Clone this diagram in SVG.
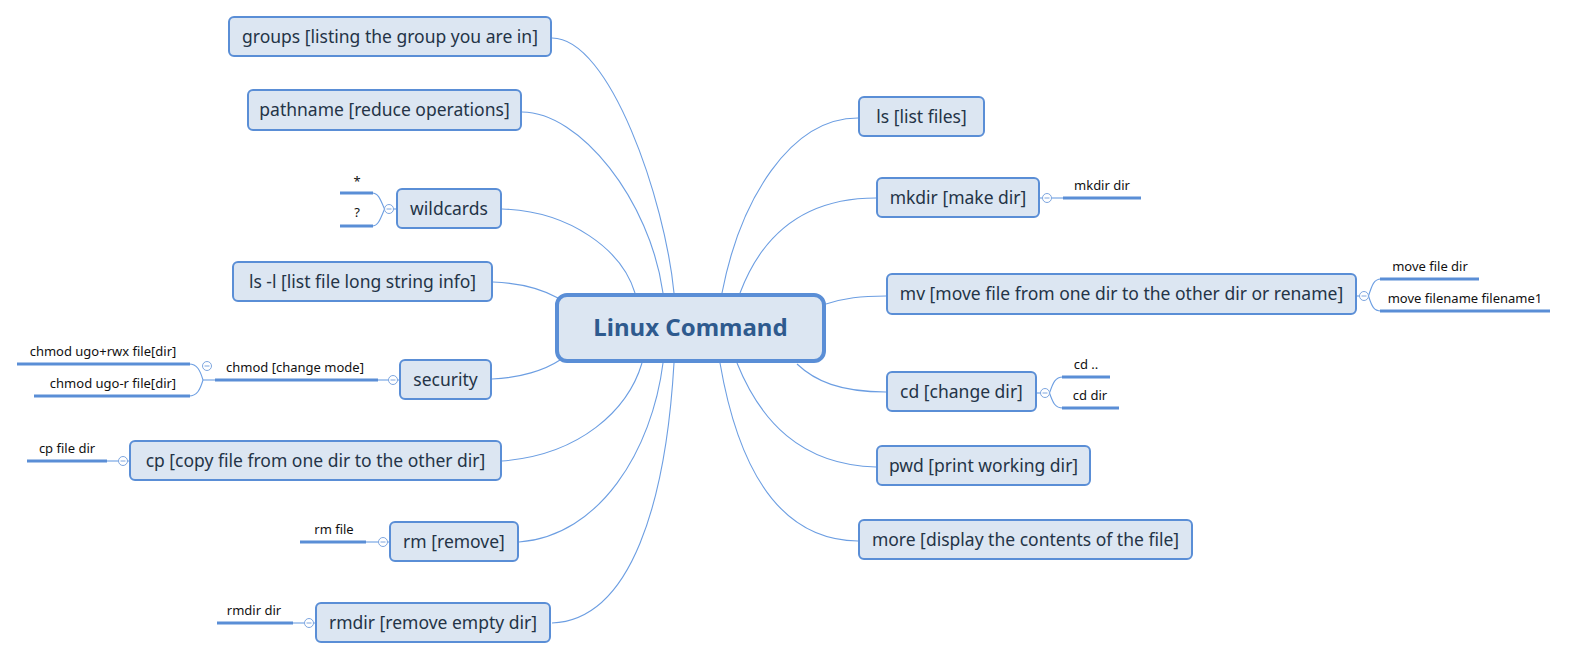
<svg xmlns="http://www.w3.org/2000/svg" xmlns:xlink="http://www.w3.org/1999/xlink" width="1575" height="660" viewBox="0 0 1575 660">
<style>
.bg{fill:#ffffff}
.node rect{fill:#dce6f2;stroke:#5a8ed6;stroke-width:2}
.node text{font-family:"Noto Sans","Open Sans",sans-serif;font-size:17.5px;fill:#243447;text-anchor:middle}
.center rect{fill:#dce6f2;stroke:#5a8ed6;stroke-width:4}
.center text{font-family:"Noto Sans","Open Sans",sans-serif;font-size:24px;font-weight:bold;fill:#2e5a8e;text-anchor:middle}
.conn path,.conn line{fill:none;stroke:#6c9ee2;stroke-width:1.1}
.sub line.ul{stroke:#5a8ed6;stroke-width:3}
.sub text{font-family:"Noto Sans","Open Sans",sans-serif;font-size:13px;fill:#111;text-anchor:middle}
</style>
<defs>
<g id="tog"><circle cx="0" cy="0" r="4.5" fill="#ffffff" stroke="#7ea6df" stroke-width="1"/><path d="M-2.5 0H2.5" stroke="#7ea6df" stroke-width="1"/></g>
</defs>
<rect class="bg" x="0" y="0" width="1575" height="660"/>

<g id="connectors" class="conn">
<path d="M552 38 C610 38 665 200 674 293"/>
<path d="M522 112 C580 112 650 200 663 293"/>
<path d="M502 209 C570 211 622 250 635 293"/>
<path d="M493 282 C520 283 540 288 558 298"/>
<path d="M492 379 C520 378 545 370 560 360"/>
<path d="M502 461 C580 455 628 410 642 363"/>
<path d="M519 542 C600 536 652 450 663 363"/>
<path d="M552 623 C632 620 666 500 674 363"/>
<path d="M858 118 C790 118 740 200 722 293"/>
<path d="M876 198 C800 198 760 240 740 293"/>
<path d="M886 296 C860 296 845 298 826 304"/>
<path d="M886 392 C840 392 815 381 797 364"/>
<path d="M876 467 C800 465 760 420 737 363"/>
<path d="M858 541 C770 540 735 450 720 363"/>
<!-- sub connectors -->
<line x1="396" y1="209" x2="393.5" y2="209"/>
<path d="M384.5 209 C380 198 378 193 372 193"/>
<path d="M384.5 209 C380 220 378 226 372 226"/>
<line x1="399" y1="380" x2="397.5" y2="380"/>
<line x1="388.5" y1="380" x2="378" y2="380"/>
<line x1="215" y1="380" x2="203" y2="380"/>
<path d="M203 380 C200 370 197 364 189 364"/>
<path d="M203 380 C200 390 197 396 189 396"/>
<line x1="129" y1="461" x2="127.5" y2="461"/>
<line x1="118.5" y1="461" x2="107" y2="461"/>
<line x1="389" y1="542" x2="387.5" y2="542"/>
<line x1="378.5" y1="542" x2="366" y2="542"/>
<line x1="315" y1="623" x2="313.5" y2="623"/>
<line x1="304.5" y1="623" x2="293" y2="623"/>
<line x1="1040" y1="198" x2="1042.5" y2="198"/>
<line x1="1051.5" y1="198" x2="1063" y2="198"/>
<line x1="1357" y1="296" x2="1359.5" y2="296"/>
<path d="M1368.5 296 C1372 285 1374 279 1381 279"/>
<path d="M1368.5 296 C1372 307 1374 311 1381 311"/>
<line x1="1037" y1="393" x2="1040.5" y2="393"/>
<path d="M1049.5 393 C1053 383 1055 377 1063 377"/>
<path d="M1049.5 393 C1053 403 1055 408 1063 408"/>
</g>

<g id="toggles">
<use xlink:href="#tog" x="389" y="209"/>
<use xlink:href="#tog" x="393" y="380"/>
<use xlink:href="#tog" x="207" y="366"/>
<use xlink:href="#tog" x="123" y="461"/>
<use xlink:href="#tog" x="383" y="542"/>
<use xlink:href="#tog" x="309" y="623"/>
<use xlink:href="#tog" x="1047" y="198"/>
<use xlink:href="#tog" x="1364" y="296"/>
<use xlink:href="#tog" x="1045" y="393"/>
</g>

<g id="center" class="center">
<rect x="557" y="295" width="267" height="66" rx="10"/>
<text x="690.5" y="336">Linux Command</text>
</g>

<g id="n-groups" class="node"><rect x="229" y="17" width="322" height="39" rx="5"/><text x="390" y="43">groups [listing the group you are in]</text></g>
<g id="n-pathname" class="node"><rect x="248" y="90" width="273" height="40" rx="5"/><text x="384.5" y="116">pathname [reduce operations]</text></g>
<g id="n-wildcards" class="node"><rect x="397" y="189" width="104" height="39" rx="5"/><text x="449" y="215">wildcards</text></g>
<g id="n-lsl" class="node"><rect x="233" y="262" width="259" height="39" rx="5"/><text x="362.5" y="288">ls -l [list file long string info]</text></g>
<g id="n-security" class="node"><rect x="400" y="360" width="91" height="39" rx="5"/><text x="445.5" y="386">security</text></g>
<g id="n-cp" class="node"><rect x="130" y="441" width="371" height="39" rx="5"/><text x="315.5" y="467">cp [copy file from one dir to the other dir]</text></g>
<g id="n-rm" class="node"><rect x="390" y="522" width="128" height="39" rx="5"/><text x="454" y="548">rm [remove]</text></g>
<g id="n-rmdir" class="node"><rect x="316" y="603" width="234" height="39" rx="5"/><text x="433" y="629">rmdir [remove empty dir]</text></g>

<g id="n-ls" class="node"><rect x="859" y="97" width="125" height="39" rx="5"/><text x="921.5" y="123">ls [list files]</text></g>
<g id="n-mkdir" class="node"><rect x="877" y="178" width="162" height="39" rx="5"/><text x="958" y="204">mkdir [make dir]</text></g>
<g id="n-mv" class="node"><rect x="887" y="274" width="469" height="40" rx="5"/><text x="1121.5" y="300">mv [move file from one dir to the other dir or rename]</text></g>
<g id="n-cd" class="node"><rect x="887" y="372" width="149" height="39" rx="5"/><text x="961.5" y="398">cd [change dir]</text></g>
<g id="n-pwd" class="node"><rect x="877" y="446" width="213" height="39" rx="5"/><text x="983.5" y="472">pwd [print working dir]</text></g>
<g id="n-more" class="node"><rect x="859" y="520" width="333" height="39" rx="5"/><text x="1025.5" y="546">more [display the contents of the file]</text></g>

<g id="s-star" class="sub"><line class="ul" x1="340" y1="193" x2="373" y2="193"/><text x="357" y="186">*</text></g>
<g id="s-q" class="sub"><line class="ul" x1="340" y1="226" x2="373" y2="226"/><text x="357" y="217">?</text></g>
<g id="s-chmod" class="sub"><line class="ul" x1="215" y1="380" x2="378" y2="380"/><text x="295" y="372">chmod [change mode]</text></g>
<g id="s-rwx" class="sub"><line class="ul" x1="17" y1="364" x2="190" y2="364"/><text x="103" y="356">chmod ugo+rwx file[dir]</text></g>
<g id="s-r" class="sub"><line class="ul" x1="34" y1="396" x2="190" y2="396"/><text x="113" y="388">chmod ugo-r file[dir]</text></g>
<g id="s-cp" class="sub"><line class="ul" x1="27" y1="461" x2="107" y2="461"/><text x="67" y="453">cp file dir</text></g>
<g id="s-rm" class="sub"><line class="ul" x1="300" y1="542" x2="366" y2="542"/><text x="334" y="534">rm file</text></g>
<g id="s-rmdir" class="sub"><line class="ul" x1="217" y1="623" x2="293" y2="623"/><text x="254" y="615">rmdir dir</text></g>
<g id="s-mkdir" class="sub"><line class="ul" x1="1063" y1="198" x2="1141" y2="198"/><text x="1102" y="190">mkdir dir</text></g>
<g id="s-mv1" class="sub"><line class="ul" x1="1380" y1="279" x2="1479" y2="279"/><text x="1430" y="271">move file dir</text></g>
<g id="s-mv2" class="sub"><line class="ul" x1="1380" y1="311" x2="1550" y2="311"/><text x="1465" y="303">move filename filename1</text></g>
<g id="s-cd1" class="sub"><line class="ul" x1="1062" y1="377" x2="1110" y2="377"/><text x="1086" y="369">cd ..</text></g>
<g id="s-cd2" class="sub"><line class="ul" x1="1062" y1="408" x2="1119" y2="408"/><text x="1090" y="400">cd dir</text></g>
</svg>
